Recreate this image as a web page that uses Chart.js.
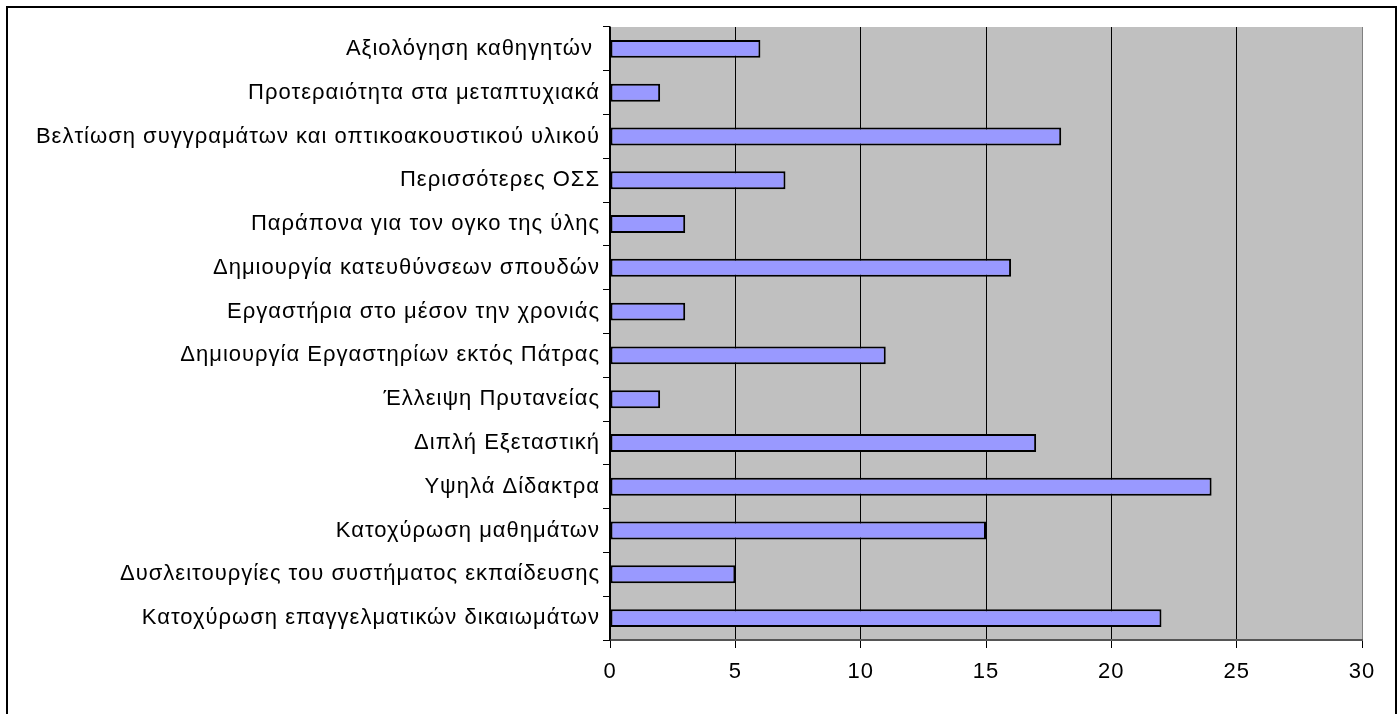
<!DOCTYPE html>
<html lang="el">
<head>
    <meta charset="UTF-8">
    <title>Bar chart</title>
    <script src="https://cdn.jsdelivr.net/npm/chart.js"></script>
    <style>
        html, body {
            margin: 0;
            padding: 0;
            background: #ffffff;
        }
        .wrap {
            position: relative;
            width: 1400px;
            height: 714px;
        }
    </style>
</head>
<body>
    <div class="wrap">
        <canvas id="barChart"></canvas>
    </div>
    <script>
        // Categories, top to bottom
        const categories = [
            'Αξιολόγηση καθηγητών ',
            'Προτεραιότητα στα μεταπτυχιακά',
            'Βελτίωση συγγραμάτων και οπτικοακουστικού υλικού',
            'Περισσότερες ΟΣΣ',
            'Παράπονα για τον ογκο της ύλης',
            'Δημιουργία κατευθύνσεων σπουδών',
            'Εργαστήρια στο μέσον την χρονιάς',
            'Δημιουργία Εργαστηρίων εκτός Πάτρας',
            'Έλλειψη Πρυτανείας',
            'Διπλή Εξεταστική',
            'Υψηλά Δίδακτρα',
            'Κατοχύρωση μαθημάτων',
            'Δυσλειτουργίες του συστήματος εκπαίδευσης',
            'Κατοχύρωση επαγγελματικών δικαιωμάτων'
        ];
        const counts = [6, 2, 18, 7, 3, 16, 3, 11, 2, 17, 24, 15, 5, 22];
        const xTicks = [0, 5, 10, 15, 20, 25, 30];

        // gray plot area + outer frame, slightly wider letter spacing like the original
        const frame = {
            id: 'frame',
            beforeDraw(chart) {
                const { ctx, chartArea: a } = chart;
                ctx.save();
                ctx.fillStyle = '#c0c0c0';
                ctx.fillRect(a.left, a.top, a.right - a.left, a.bottom - a.top);
                ctx.strokeStyle = '#000';
                ctx.lineWidth = 2;
                ctx.strokeRect(7, 7, 1389, 720);
                ctx.restore();
                ctx.letterSpacing = '1px';
            },
            afterDraw(chart) {
                chart.ctx.letterSpacing = '0px';
            }
        };

        const ctx = document.getElementById('barChart').getContext('2d');
        const barChart = new Chart(ctx, {
            type: 'bar',
            data: {
                labels: categories,
                datasets: [{
                    data: counts,
                    backgroundColor: '#9999ff',
                    borderColor: '#000000',
                    borderWidth: 2,
                    borderSkipped: false,
                    barPercentage: 0.41,
                    categoryPercentage: 1
                }]
            },
            options: {
                indexAxis: 'y',
                responsive: true,
                maintainAspectRatio: false,
                animation: false,
                layout: {
                    padding: { left: 0, top: 27, right: 38, bottom: 0 }
                },
                plugins: {
                    legend: { display: false },
                    tooltip: { enabled: false }
                },
                scales: {
                    x: {
                        min: 0,
                        max: 30,
                        afterBuildTicks: scale => {
                            scale.ticks = xTicks.map(v => ({ value: v }));
                        },
                        afterFit: scale => { scale.height = 74; },
                        grid: {
                            color: c => (c.tick && c.tick.value === 30) ? '#808080' : '#000000',
                            lineWidth: 1,
                            tickLength: 8,
                            tickColor: '#000000'
                        },
                        border: { color: '#555555', width: 2 },
                        ticks: {
                            color: '#000000',
                            font: { family: 'Arial, "Liberation Sans", sans-serif', size: 22 },
                            padding: 11,
                            maxRotation: 0
                        }
                    },
                    y: {
                        afterFit: scale => { scale.width = 610; },
                        grid: {
                            offset: true,
                            drawOnChartArea: false,
                            tickLength: 7,
                            tickColor: '#000000'
                        },
                        border: { color: '#000000', width: 1.5 },
                        ticks: {
                            color: '#000000',
                            font: { family: 'Arial, "Liberation Sans", sans-serif', size: 22 },
                            padding: 3,
                            autoSkip: false
                        }
                    }
                }
            },
            plugins: [frame]
        });
    </script>
</body>
</html>
